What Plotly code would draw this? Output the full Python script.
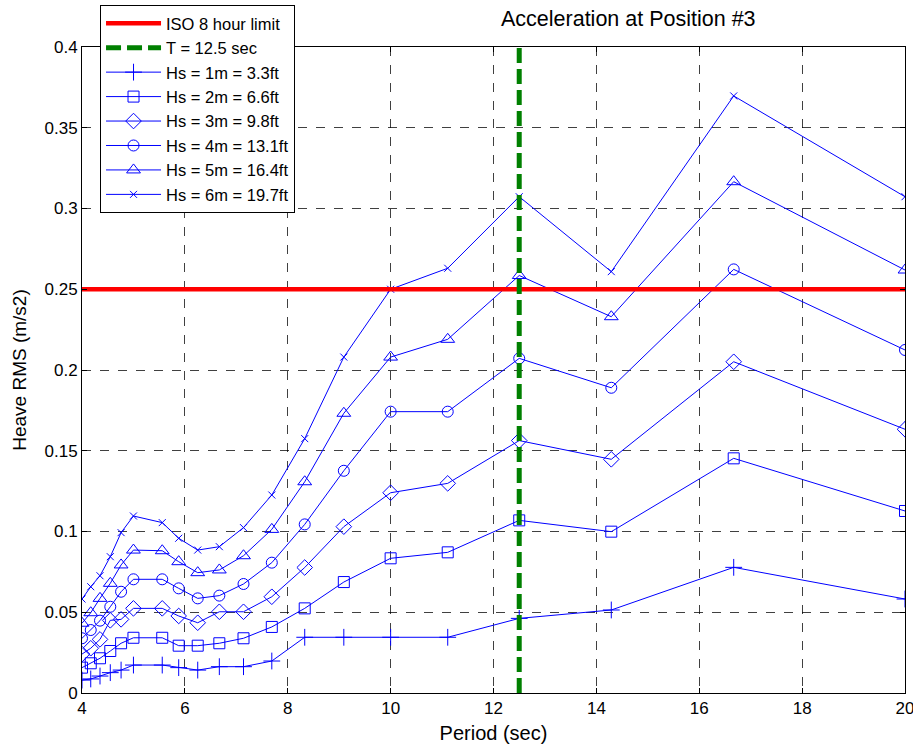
import plotly.graph_objects as go

period = [4.0, 4.17, 4.35, 4.55, 4.76, 5.0, 5.56, 5.88, 6.25, 6.67, 7.14, 7.69,
          8.33, 9.09, 10.0, 11.11, 12.5, 14.29, 16.67, 20.0]

hs1 = [0.0080, 0.0087, 0.0105, 0.0126, 0.0142, 0.0173, 0.0173, 0.0157, 0.0142, 0.0163, 0.0163, 0.0198,
       0.0345, 0.0345, 0.0345, 0.0345, 0.0462, 0.0514, 0.0778, 0.0582]
hs2 = [0.0157, 0.0184, 0.0215, 0.0260, 0.0308, 0.0342, 0.0342, 0.0293, 0.0293, 0.0308, 0.0339, 0.0409,
       0.0524, 0.0687, 0.0834, 0.0871, 0.1069, 0.0999, 0.1453, 0.1127]
hs3 = [0.0241, 0.0277, 0.0332, 0.0450, 0.0456, 0.0524, 0.0524, 0.0477, 0.0435, 0.0503, 0.0503, 0.0596,
       0.0777, 0.1030, 0.1240, 0.1298, 0.1563, 0.1447, 0.2051, 0.1633]
hs4 = [0.0339, 0.0390, 0.0448, 0.0534, 0.0627, 0.0704, 0.0704, 0.0648, 0.0586, 0.0603, 0.0675, 0.0807,
       0.1044, 0.1376, 0.1742, 0.1742, 0.2072, 0.1890, 0.2623, 0.2124]
hs5 = [0.0432, 0.0497, 0.0586, 0.0679, 0.0793, 0.0885, 0.0881, 0.0813, 0.0745, 0.0762, 0.0850, 0.1013,
       0.1308, 0.1732, 0.2080, 0.2190, 0.2585, 0.2330, 0.3166, 0.2619]
hs6 = [0.0582, 0.0658, 0.0726, 0.0844, 0.0993, 0.1096, 0.1055, 0.0958, 0.0885, 0.0906, 0.1024, 0.1226,
       0.1575, 0.2080, 0.2500, 0.2630, 0.3073, 0.2609, 0.3697, 0.3073]

series_names = ["Hs = 1m = 3.3ft", "Hs = 2m = 6.6ft", "Hs = 3m = 9.8ft",
                "Hs = 4m = 13.1ft", "Hs = 5m = 16.4ft", "Hs = 6m = 19.7ft"]
series_values = [hs1, hs2, hs3, hs4, hs5, hs6]
symbols = ["cross-thin-open", "square-open", "diamond-open", "circle-open",
           "triangle-up-open", "x-thin-open"]
sizes = [12, 11, 12, 11, 12, 7]

iso_limit = 0.25
t_line = 12.5
x_range = [4, 20]
y_range = [0, 0.4]

xticks = [4, 6, 8, 10, 12, 14, 16, 18, 20]
yticks = [0, 0.05, 0.1, 0.15, 0.2, 0.25, 0.3, 0.35, 0.4]
yticktext = ["0", "0.05", "0.1", "0.15", "0.2", "0.25", "0.3", "0.35", "0.4"]

FONT = "Liberation Sans, Arial, sans-serif"
BLUE = "#0000ff"

fig = go.Figure()

for i, (name, vals) in enumerate(zip(series_names, series_values)):
    fig.add_trace(go.Scatter(
        x=period, y=vals, mode="lines+markers", name=name,
        line=dict(color=BLUE, width=1),
        marker=dict(symbol=symbols[i], size=sizes[i], color=BLUE,
                    line=dict(color=BLUE, width=1)),
        legendrank=10 + i,
    ))

fig.add_trace(go.Scatter(
    x=x_range, y=[iso_limit, iso_limit], mode="lines", name="ISO 8 hour limit",
    line=dict(color="#ff0000", width=4.5), legendrank=1,
))
fig.add_trace(go.Scatter(
    x=[t_line, t_line], y=y_range, mode="lines", name="T = 12.5 sec",
    line=dict(color="#008000", width=5, dash="15px,6px"), legendrank=2,
))

axis_common = dict(
    showline=True, linecolor="black", linewidth=1, mirror="ticks",
    ticks="inside", ticklen=5, tickcolor="black",
    showgrid=True, gridcolor="rgba(0,0,0,0.75)", gridwidth=1, griddash="dash",
    zeroline=False, ticklabeloverflow="allow", automargin=False,
    tickfont=dict(family=FONT, size=17, color="black"),
)

fig.update_xaxes(range=x_range, tickvals=xticks,
                 title=dict(text="Period (sec)", font=dict(family=FONT, size=20, color="black"), standoff=8),
                 **axis_common)
fig.update_yaxes(range=y_range, tickvals=yticks, ticktext=yticktext,
                 title=dict(text="Heave RMS (m/s2)", font=dict(family=FONT, size=19, color="black"), standoff=12),
                 **axis_common)

fig.update_layout(
    width=913, height=748,
    margin=dict(l=82, r=8, t=47, b=55, autoexpand=False),
    paper_bgcolor="white", plot_bgcolor="white",
    font=dict(family=FONT, color="black"),
    showlegend=True,
    legend=dict(
        x=0.0219, y=1.065, xanchor="left", yanchor="top",
        bgcolor="white", bordercolor="black", borderwidth=1,
        font=dict(family=FONT, size=16.5, color="black"),
        tracegroupgap=0, itemwidth=55,
    ),
    annotations=[dict(
        text="Acceleration at Position #3", x=0.664, y=1.0, xref="paper", yref="paper",
        xanchor="center", yanchor="bottom", yshift=14, showarrow=False,
        font=dict(family=FONT, size=21.5, color="black"),
    )],
)

fig.write_html("out.html")
